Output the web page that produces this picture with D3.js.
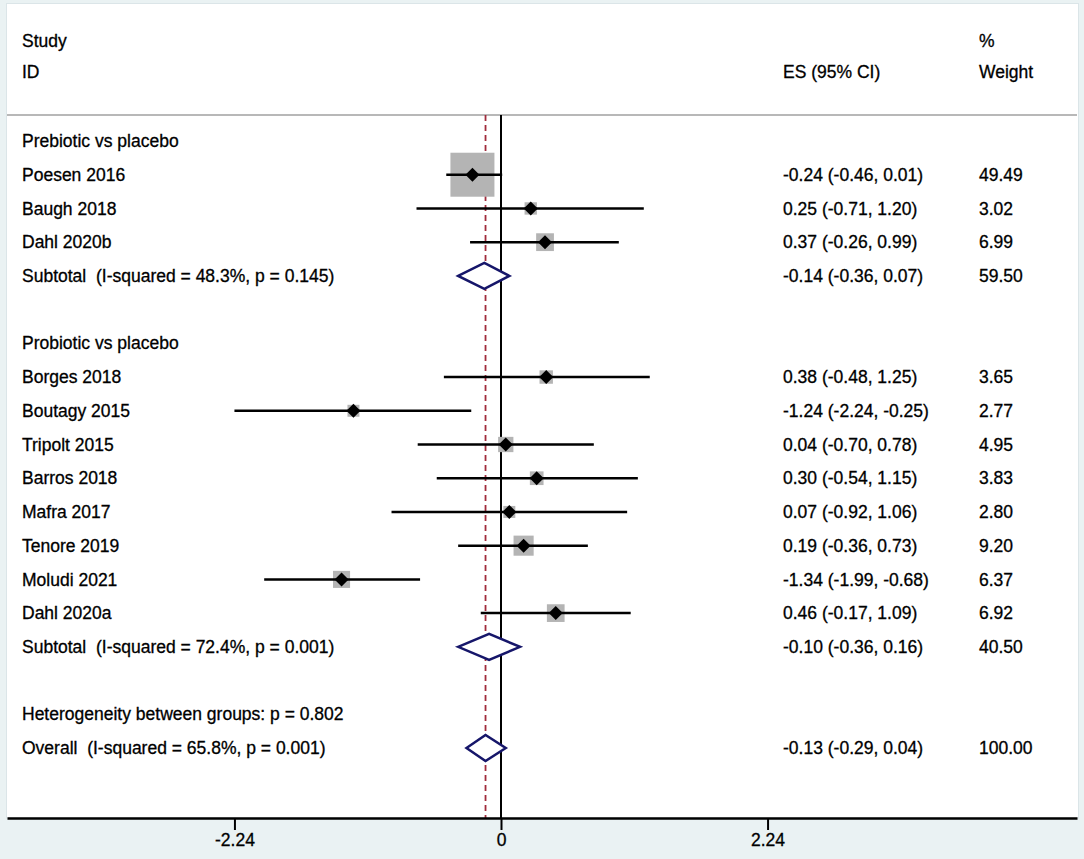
<!DOCTYPE html>
<meta charset="utf-8">
<style>
body { margin: 0; background: #eaf2f3; }
text { font-family: "Liberation Sans", Arial, sans-serif; font-size: 17.5px; fill: #000; stroke: #000; stroke-width: 0.3; white-space: pre; }
.ci { stroke: #000; stroke-width: 2.5; }
.box { fill: #b4b4b4; stroke: #b4b4b4; stroke-width: 2; }
.pt { fill: #000; }
.dia { fill: #fff; stroke: #16166a; stroke-width: 2.5; }
</style>
<svg width="1084" height="859"></svg>
<script src="https://d3js.org/d3.v7.min.js"></script>
<script>

// study rows, in order
var studies = ["Poesen 2016", "Baugh 2018", "Dahl 2020b",
  "Borges 2018", "Boutagy 2015", "Tripolt 2015", "Barros 2018",
  "Mafra 2017", "Tenore 2019", "Moludi 2021", "Dahl 2020a"];
var studyGroup = [0, 0, 0, 1, 1, 1, 1, 1, 1, 1, 1];
var es = [-0.24, 0.25, 0.37, 0.38, -1.24, 0.04, 0.30, 0.07, 0.19, -1.34, 0.46];
var lo = [-0.46, -0.71, -0.26, -0.48, -2.24, -0.70, -0.54, -0.92, -0.36, -1.99, -0.17];
var hi = [0.01, 1.20, 0.99, 1.25, -0.25, 0.78, 1.15, 1.06, 0.73, -0.68, 1.09];
var weight = [49.49, 3.02, 6.99, 3.65, 2.77, 4.95, 3.83, 2.80, 9.20, 6.37, 6.92];

// subgroup pooled results
var groups = ["Prebiotic vs placebo", "Probiotic vs placebo"];
var subLabel = ["Subtotal  (I-squared = 48.3%, p = 0.145)", "Subtotal  (I-squared = 72.4%, p = 0.001)"];
var subEs = [-0.14, -0.10];
var subLo = [-0.36, -0.36];
var subHi = [0.07, 0.16];
var subWeight = [59.50, 40.50];

var hetLabel = "Heterogeneity between groups: p = 0.802";
var overallLabel = "Overall  (I-squared = 65.8%, p = 0.001)";
var overall = { es: -0.13, lo: -0.29, hi: 0.04, w: 100.00 };

var tickVals = [-2.24, 0, 2.24];
var tickLabels = ["-2.24", "0", "2.24"];

var svg = d3.select("svg");

var f2 = function(v) { return v.toFixed(2); };
var ciText = function(e, l, h) { return f2(e) + " (" + f2(l) + ", " + f2(h) + ")"; };

// build the row list
var rows = [];
groups.forEach(function(g, gi) {
  rows.push({ type: "head", label: g });
  studies.forEach(function(s, i) {
    if (studyGroup[i] === gi) rows.push({ type: "study", label: s, es: es[i], lo: lo[i], hi: hi[i], w: weight[i] });
  });
  rows.push({ type: "sub", label: subLabel[gi], es: subEs[gi], lo: subLo[gi], hi: subHi[gi], w: subWeight[gi] });
  rows.push({ type: "blank" });
});
rows.push({ type: "head", label: hetLabel });
rows.push({ type: "sub", label: overallLabel, es: overall.es, lo: overall.lo, hi: overall.hi, w: overall.w });

var x = d3.scaleLinear().domain([-494 / 119, 576 / 119]).range([7, 1077]);
var y = d3.scaleLinear().domain([0, rows.length - 1]).range([141, 748]);
var size = d3.scaleSqrt().domain([0, d3.max(weight)]).range([0, 42]);

var plotTop = 115, plotBottom = 818;

// panel
svg.append("rect").attr("x", 6.5).attr("y", 3.5).attr("width", 1072).attr("height", plotBottom - 3.5)
  .attr("fill", "#fff").attr("stroke", "#dbe5e8");

// header
svg.append("text").attr("x", 22).attr("y", 41).attr("dy", "0.35em").text("Study");
svg.append("text").attr("x", 22).attr("y", 72).attr("dy", "0.35em").text("ID");
svg.append("text").attr("x", 783).attr("y", 72).attr("dy", "0.35em").text("ES (95% CI)");
svg.append("text").attr("x", 979).attr("y", 41).attr("dy", "0.35em").text("%");
svg.append("text").attr("x", 979).attr("y", 72).attr("dy", "0.35em").text("Weight");
svg.append("line").attr("x1", 7).attr("x2", 1077).attr("y1", plotTop).attr("y2", plotTop)
  .attr("stroke", "#b8b8b8").attr("stroke-width", 2);

// reference lines
svg.append("line").attr("x1", x(0)).attr("x2", x(0)).attr("y1", plotTop).attr("y2", plotBottom)
  .attr("stroke", "#000").attr("stroke-width", 2);
svg.append("line").attr("x1", x(overall.es)).attr("x2", x(overall.es)).attr("y1", plotTop).attr("y2", plotBottom)
  .attr("stroke", "#a02c3c").attr("stroke-width", 1.8).attr("stroke-dasharray", "6,4");

var g = svg.append("g");

rows.forEach(function(r, i) {
  var cy = y(i);
  if (r.type === "blank") return;
  g.append("text").attr("x", 22).attr("y", cy).attr("dy", "0.35em").text(r.label);
  if (r.type === "study") {
    var s = size(r.w);
    g.append("rect").attr("class", "box").attr("x", x(r.es) - s / 2).attr("y", cy - s / 2)
      .attr("width", s).attr("height", s);
    g.append("line").attr("class", "ci").attr("x1", x(r.lo)).attr("x2", x(r.hi)).attr("y1", cy).attr("y2", cy);
    g.append("path").attr("class", "pt")
      .attr("d", "M" + (x(r.es) - 7) + "," + cy + "L" + x(r.es) + "," + (cy - 7) +
        "L" + (x(r.es) + 7) + "," + cy + "L" + x(r.es) + "," + (cy + 7) + "Z");
  }
  if (r.type === "sub") {
    g.append("path").attr("class", "dia")
      .attr("d", "M" + x(r.lo) + "," + cy + "L" + x(r.es) + "," + (cy - 13) +
        "L" + x(r.hi) + "," + cy + "L" + x(r.es) + "," + (cy + 13) + "Z");
  }
  if (r.type === "study" || r.type === "sub") {
    g.append("text").attr("x", 783).attr("y", cy).attr("dy", "0.35em").text(ciText(r.es, r.lo, r.hi));
    g.append("text").attr("x", 979).attr("y", cy).attr("dy", "0.35em").text(f2(r.w));
  }
});

// x axis
var axis = svg.append("g")
  .attr("transform", "translate(0," + plotBottom + ")")
  .call(d3.axisBottom(x).tickValues(tickVals).tickSize(12).tickSizeOuter(0)
    .tickFormat(function(d, i) { return tickLabels[i]; }));
axis.select(".domain").attr("stroke", "#000").attr("stroke-width", 2.5);
axis.selectAll(".tick line").attr("stroke", "#000").attr("stroke-width", 2);
axis.selectAll(".tick text").attr("fill", "#000").attr("font-size", 17.5)
  .attr("font-family", "Liberation Sans, Arial, sans-serif").attr("y", 16);

</script>
